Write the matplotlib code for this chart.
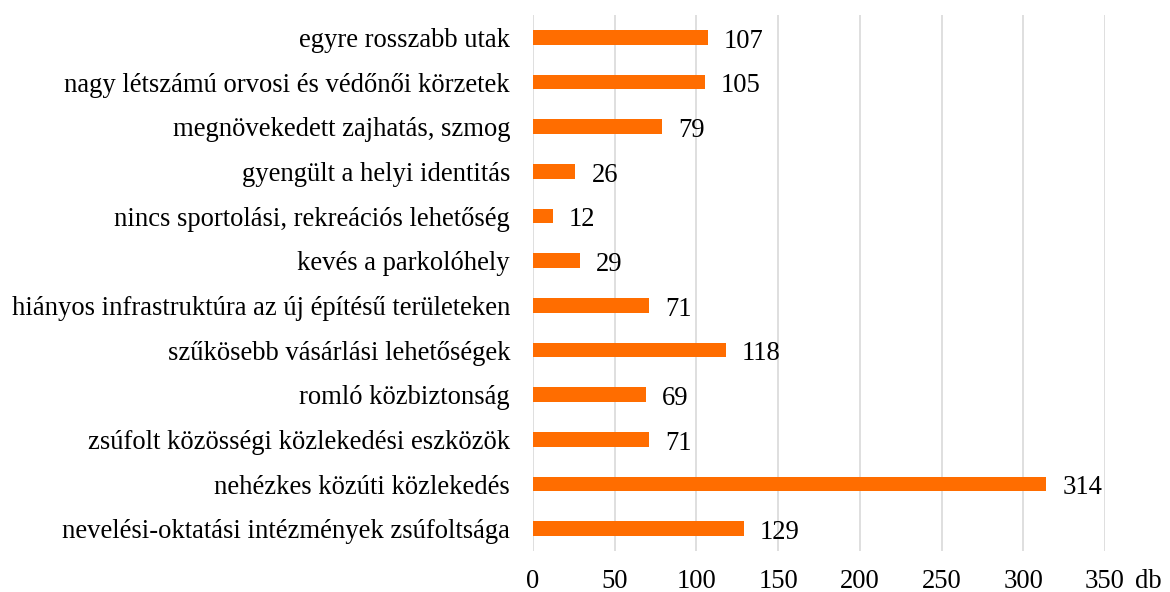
import matplotlib
matplotlib.use("Agg")
import matplotlib.pyplot as plt

categories = [
    "egyre rosszabb utak",
    "nagy létszámú orvosi és védőnői körzetek",
    "megnövekedett zajhatás, szmog",
    "gyengült a helyi identitás",
    "nincs sportolási, rekreációs lehetőség",
    "kevés a parkolóhely",
    "hiányos infrastruktúra az új építésű területeken",
    "szűkösebb vásárlási lehetőségek",
    "romló közbiztonság",
    "zsúfolt közösségi közlekedési eszközök",
    "nehézkes közúti közlekedés",
    "nevelési-oktatási intézmények zsúfoltsága",
]
values = [107, 105, 79, 26, 12, 29, 71, 118, 69, 71, 314, 129]
xticks = [0, 50, 100, 150, 200, 250, 300, 350]
unit_label = "db"

plt.rcParams['font.family'] = ['Liberation Serif', 'DejaVu Serif']
FS = 19.2

fig = plt.figure(figsize=(11.7, 5.92), dpi=100)
ax = fig.add_axes([533/1170, 1 - 551/592, (1105-533)/1170, (551-15)/592])

n = len(categories)
pos = list(range(n))
bar_color = "#FF6D00"
ax.barh(pos, values, height=0.335, color=bar_color, zorder=3)
ax.set_ylim(n - 0.5, -0.5)
ax.set_xlim(0, 350)
ax.set_yticks(pos)
ax.set_yticklabels(categories, fontsize=FS, va='center_baseline')
ax.set_xticks(xticks)
ax.set_xticklabels([str(t) for t in xticks], fontsize=FS)
ax.tick_params(axis='y', length=0, pad=16.5)
ax.tick_params(axis='x', length=0, pad=13)
ax.grid(axis='x', color='#D9D9D9', linewidth=1.2, zorder=0)
for s in ax.spines.values():
    s.set_visible(False)

for p, v in zip(pos, values):
    ax.annotate(str(v), xy=(v, p), xytext=(11.5, -7.4), textcoords='offset points',
                ha='left', va='baseline', fontsize=FS)

ax.annotate(unit_label, xy=(350, 0), xycoords=('data', 'axes fraction'),
            xytext=(31, -13), textcoords='offset points', ha='center', va='top',
            fontsize=FS, annotation_clip=False)

fig.savefig("out.png", dpi=100)
